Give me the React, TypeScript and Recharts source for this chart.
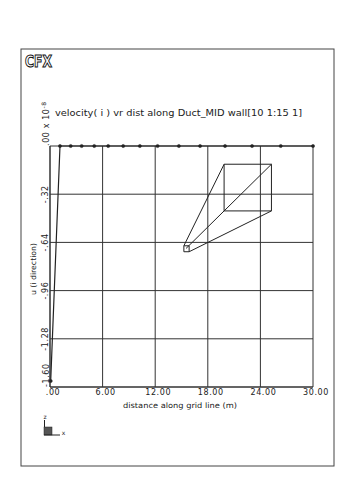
import React from "react";
import {
  LineChart,
  Line,
  XAxis,
  YAxis,
  CartesianGrid,
  ReferenceArea,
  ReferenceLine,
} from "recharts";

// distance along grid line (m)
const distances = [0.08, 1.14, 2.36, 3.61, 5.05, 6.64, 8.35, 10.25, 12.27, 14.7, 17.12, 19.97, 23.05, 26.32, 30.0];
// u (i direction), units of 1e-8
const velocities = [-1.56, 0, 0, 0, 0, 0, 0, 0, 0, 0, 0, 0, 0, 0, 0];

const xTicks = [0, 6, 12, 18, 24, 30];
const xTickLabels = [".00", "6.00", "12.00", "18.00", "24.00", "30.00"];
const yTicks = [-1.6, -1.28, -0.96, -0.64, -0.32, 0];
const yTickLabels = ["-1.60", "-1.28", "-.96", "-.64", "-.32", ".00"];

// zoom-icon decoration (in chart units)
const zoomSmallX = [15.27, 15.87];
const zoomSmallY = [-0.702, -0.6625];
const zoomBigX = [19.86, 25.26];
const zoomBigY = [-0.431, -0.121];

const title = "velocity( i ) vr dist along Duct_MID wall[10 1:15 1]";
const xTitle = "distance along grid line (m)";
const yTitle = "u (i direction)";

const data = distances.map((d, i) => ({ d, u: velocities[i] }));

const FONT = "'DejaVu Sans', sans-serif";
const INK = "#222";

const renderXTick = (props: any) => {
  const { x, y, payload } = props;
  const idx = xTicks.findIndex((t) => Math.abs(t - payload.value) < 1e-6);
  return (
    <text key={`xt-${idx}`} x={x + 3} y={y + 8} textAnchor="middle" fontFamily={FONT} fontSize={8} fill={INK} letterSpacing={0.6}>
      {xTickLabels[idx]}
    </text>
  );
};

const renderYTick = (props: any) => {
  const { x, y, payload } = props;
  const idx = yTicks.findIndex((t) => Math.abs(t - payload.value) < 1e-6);
  const label = yTickLabels[idx];
  const cx = x - 4;
  if (Math.abs(payload.value) < 1e-6) {
    return (
      <text key={`yt-${idx}`} x={cx} y={y} transform={`rotate(-90 ${cx} ${y})`} textAnchor="start" dominantBaseline="central" fontFamily={FONT} fontSize={8} fill={INK} letterSpacing={0.6}>
        {label} x 10
        <tspan dy={-3} fontSize={6}>-8</tspan>
      </text>
    );
  }
  const anchor = idx === 0 ? "start" : "middle";
  return (
    <text key={`yt-${idx}`} x={cx} y={y} transform={`rotate(-90 ${cx} ${y})`} textAnchor={anchor} dominantBaseline="central" fontFamily={FONT} fontSize={8} fill={INK} letterSpacing={0.6}>
      {label}
    </text>
  );
};

export default function App() {
  return (
    <div style={{ position: "absolute", left: 0, top: 0, width: 345, height: 488, background: "#fff" }}>
      <LineChart
        width={345}
        height={488}
        data={data}
        margin={{ top: 146, right: 32, bottom: 81, left: 30 }}
      >
        <CartesianGrid stroke="#333" strokeWidth={1} horizontalValues={yTicks} verticalValues={xTicks} />
        <XAxis
          dataKey="d"
          type="number"
          domain={[0, 30]}
          ticks={xTicks}
          height={20}
          tickSize={0}
          tickMargin={0}
          tickLine={false}
          axisLine={{ stroke: "#333" }}
          tick={renderXTick}
          interval={0}
        />
        <YAxis
          type="number"
          domain={[-1.6, 0]}
          ticks={yTicks}
          width={20}
          tickSize={0}
          tickMargin={0}
          tickLine={false}
          axisLine={{ stroke: "#333" }}
          tick={renderYTick}
          interval={0}
        />
        <ReferenceArea x1={zoomSmallX[0]} x2={zoomSmallX[1]} y1={zoomSmallY[0]} y2={zoomSmallY[1]} fill="none" fillOpacity={0} stroke={INK} strokeWidth={1} ifOverflow="visible" />
        <ReferenceArea x1={zoomBigX[0]} x2={zoomBigX[1]} y1={zoomBigY[0]} y2={zoomBigY[1]} fill="none" fillOpacity={0} stroke={INK} strokeWidth={1} ifOverflow="visible" />
        <ReferenceLine segment={[{ x: zoomSmallX[0], y: zoomSmallY[1] }, { x: zoomBigX[0], y: zoomBigY[1] }]} stroke={INK} strokeWidth={1} ifOverflow="visible" />
        <ReferenceLine segment={[{ x: zoomSmallX[0] + 0.25, y: zoomBigY[0] - (zoomBigX[0] - zoomSmallX[0] - 0.25) * ((zoomBigY[1] - zoomBigY[0]) / (zoomBigX[1] - zoomBigX[0])) }, { x: zoomBigX[1], y: zoomBigY[1] }]} stroke={INK} strokeWidth={1} ifOverflow="visible" />
        <ReferenceLine segment={[{ x: zoomSmallX[1], y: zoomSmallY[0] }, { x: zoomBigX[1], y: zoomBigY[0] }]} stroke={INK} strokeWidth={1} ifOverflow="visible" />
        <Line
          dataKey="u"
          stroke={INK}
          strokeWidth={1.2}
          dot={{ r: 1.6, fill: INK, stroke: INK, strokeWidth: 0.5 }}
          isAnimationActive={false}
        />
      </LineChart>
      <svg width={345} height={488} style={{ position: "absolute", left: 0, top: 0, pointerEvents: "none" }}>
        <rect x={21} y={49} width={313} height={417} fill="none" stroke="#444" strokeWidth={1} />
        <text x={25} y={67} fontFamily="'DejaVu Sans', sans-serif" fontWeight="bold" fontSize={15} fill="#fff" stroke="#111" strokeWidth={1} textLength={27} lengthAdjust="spacingAndGlyphs">
          CFX
        </text>
        <text x={55} y={116} fontFamily={FONT} fontSize={8.5} fill={INK} textLength={247} lengthAdjust="spacingAndGlyphs">
          {title}
        </text>
        <text x={123} y={408} fontFamily={FONT} fontSize={7.5} fill={INK} textLength={114} lengthAdjust="spacingAndGlyphs">
          {xTitle}
        </text>
        <text x={33} y={269} transform="rotate(-90 33 269)" textAnchor="middle" dominantBaseline="central" fontFamily={FONT} fontSize={7.5} fill={INK} textLength={52} lengthAdjust="spacingAndGlyphs">
          {yTitle}
        </text>
        <text x={45} y={419} textAnchor="middle" fontFamily={FONT} fontSize={6} fill={INK}>z</text>
        <line x1={44.5} y1={420} x2={44.5} y2={435} stroke={INK} strokeWidth={1} />
        <rect x={44} y={427} width={8} height={8} fill="#555" stroke={INK} strokeWidth={0.5} />
        <line x1={44} y1={435} x2={60} y2={435} stroke={INK} strokeWidth={1} />
        <text x={63.5} y={435} textAnchor="middle" fontFamily={FONT} fontSize={6} fill={INK}>x</text>
      </svg>
    </div>
  );
}
